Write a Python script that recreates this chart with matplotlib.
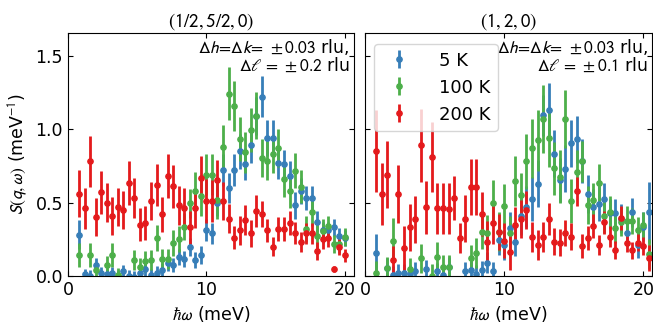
import numpy as np
import matplotlib
matplotlib.use("Agg")
import matplotlib.pyplot as plt

plt.rcParams['mathtext.fontset'] = 'stixsans'
plt.rcParams['font.family'] = ['DejaVu Sans']

# energy transfer grid (meV)
energy_a = [0.8, 1.2, 1.6, 2.0, 2.4, 2.8, 3.2, 3.6, 4.0, 4.4, 4.8, 5.2, 5.6, 6.0, 6.4, 6.8,
            7.2, 7.6, 8.0, 8.4, 8.8, 9.2, 9.6, 10.0, 10.4, 10.8, 11.2, 11.6, 12.0, 12.4,
            12.8, 13.2, 13.6, 14.0, 14.4, 14.8, 15.2, 15.6, 16.0, 16.4, 16.8, 17.2, 17.6,
            18.0, 18.4, 18.8, 19.2, 19.6, 20.0]
energy_b = energy_a + [20.4]

# (1/2, 5/2, 0)
s5_a = [0.28, 0.01, 0.0, 0.075, 0.02, 0.01, 0.02, 0.0, 0.035, 0.0, -0.01, 0.02, 0.045, 0.005,
        0.02, 0.04, 0.085, 0.075, 0.127, 0.114, 0.195, 0.11, 0.143, 0.31, 0.29, 0.50, 0.72,
        0.60, 0.72, 0.85, 0.76, 0.89, 1.09, 1.22, 0.94, 0.94, 0.77, 0.76, 0.68, 0.48, 0.58,
        0.53, 0.53, 0.37, 0.31, 0.31, 0.33, 0.27, 0.26]
e5_a = [0.10, 0.04, 0.04, 0.045, 0.04, 0.04, 0.04, 0.04, 0.04, 0.04, 0.04, 0.04, 0.045, 0.04,
        0.045, 0.045, 0.05, 0.05, 0.055, 0.055, 0.06, 0.055, 0.06, 0.075, 0.07, 0.09, 0.11,
        0.10, 0.11, 0.12, 0.11, 0.12, 0.13, 0.14, 0.12, 0.12, 0.11, 0.10, 0.10, 0.09, 0.09,
        0.08, 0.08, 0.07, 0.06, 0.06, 0.06, 0.055, 0.055]
s100_a = [0.143, -0.05, 0.143, 0.04, -0.05, 0.075, 0.143, 0.007, -0.05, -0.05, 0.109, 0.059,
          0.098, 0.109, 0.257, 0.114, 0.114, 0.223, 0.25, 0.336, 0.495, 0.575, 0.545, 0.689,
          0.689, 0.518, 0.877, 1.24, 1.16, 0.932, 0.841, 0.995, 1.09, 0.802, 0.786, 0.832,
          0.87, 0.659, 0.575, 0.718, 0.609, 0.318, 0.432, 0.273, 0.305, 0.34, 0.216, 0.216,
          0.264]
e100_a = [0.08, 0.04, 0.08, 0.05, 0.04, 0.06, 0.08, 0.05, 0.04, 0.04, 0.07, 0.06, 0.07, 0.07,
          0.09, 0.07, 0.07, 0.09, 0.09, 0.09, 0.10, 0.13, 0.14, 0.14, 0.14, 0.13, 0.15, 0.18,
          0.17, 0.15, 0.14, 0.15, 0.16, 0.13, 0.13, 0.13, 0.13, 0.12, 0.11, 0.12, 0.11, 0.09,
          0.09, 0.08, 0.08, 0.07, 0.06, 0.06, 0.06]
s200_a = [0.56, 0.46, 0.78, 0.40, 0.57, 0.50, 0.41, 0.47, 0.45, 0.63, 0.53, 0.35, 0.36, 0.51,
          0.62, 0.42, 0.68, 0.61, 0.48, 0.46, 0.33, 0.46, 0.67, 0.51, 0.51, 0.65, 0.51, 0.39,
          0.26, 0.31, 0.38, 0.29, 0.44, 0.42, 0.31, 0.20, 0.32, 0.32, 0.36, 0.29, 0.23, 0.29,
          0.29, 0.17, 0.25, 0.26, 0.045, 0.20, 0.14]
e200_a = [0.16, 0.14, 0.175, 0.13, 0.145, 0.135, 0.13, 0.13, 0.13, 0.15, 0.135, 0.11, 0.115,
          0.13, 0.145, 0.12, 0.15, 0.145, 0.135, 0.14, 0.115, 0.135, 0.145, 0.15, 0.14, 0.14,
          0.13, 0.10, 0.08, 0.10, 0.10, 0.09, 0.11, 0.09, 0.08, 0.065, 0.08, 0.08, 0.08, 0.075,
          0.07, 0.07, 0.07, 0.06, 0.065, 0.065, 0.02, 0.055, 0.045]

# (1, 2, 0)
s5_b = [0.155, -0.05, 0.055, 0.007, 0.02, 0.02, 0.014, 0.036, -0.05, 0.045, -0.05, 0.03, 0.007,
        0.06, -0.05, -0.05, 0.036, 0.04, 0.014, 0.04, 0.09, 0.035, 0.245, 0.21, 0.325, 0.234,
        0.41, 0.47, 0.523, 0.627, 1.093, 1.127, 0.832, 0.655, 0.73, 0.905, 0.932, 0.78, 0.557,
        0.47, 0.491, 0.523, 0.427, 0.427, 0.39, 0.295, 0.432, 0.211, 0.336, 0.432]
e5_b = [0.13, 0.04, 0.07, 0.06, 0.06, 0.06, 0.06, 0.06, 0.04, 0.06, 0.04, 0.06, 0.06, 0.07,
        0.04, 0.04, 0.06, 0.06, 0.06, 0.06, 0.07, 0.06, 0.10, 0.10, 0.11, 0.10, 0.13, 0.14,
        0.15, 0.16, 0.14, 0.19, 0.16, 0.15, 0.16, 0.16, 0.16, 0.15, 0.13, 0.12, 0.12, 0.11,
        0.10, 0.10, 0.10, 0.09, 0.10, 0.09, 0.10, 0.21]
s100_b = [0.018, -0.05, 0.052, 0.241, -0.05, -0.05, 0.045, -0.05, 0.12, -0.05, 0.0, 0.132,
          0.059, 0.059, -0.05, -0.05, -0.05, 0.12, 0.155, 0.302, 0.295, 0.5, 0.302, 0.477,
          0.291, 0.648, 0.552, 0.78, 0.87, 0.923, 1.068, 0.939, 0.734, 0.677, 1.068, 0.507,
          0.711, 0.78, 0.484, 0.514, 0.632, 0.405, 0.432, 0.325, 0.37, 0.375, 0.375, 0.314,
          0.348, 0.15]
e100_b = [0.08, 0.04, 0.08, 0.15, 0.04, 0.04, 0.08, 0.04, 0.10, 0.04, 0.08, 0.10, 0.08, 0.08,
          0.04, 0.04, 0.04, 0.09, 0.10, 0.12, 0.12, 0.15, 0.13, 0.15, 0.12, 0.17, 0.15, 0.19,
          0.20, 0.21, 0.23, 0.20, 0.18, 0.18, 0.20, 0.15, 0.15, 0.14, 0.13, 0.12, 0.13, 0.11,
          0.11, 0.10, 0.10, 0.10, 0.09, 0.09, 0.09, 0.10]
s200_b = [0.85, 0.56, 0.69, 0.105, 0.557, 0.19, 0.33, 0.386, 0.889, 0.468, 0.809, 0.461, 0.461,
          0.457, 0.53, 0.257, 0.39, 0.605, 0.605, 0.42, 0.23, 0.357, 0.30, 0.24, 0.16, 0.348,
          0.389, 0.45, 0.264, 0.211, 0.264, 0.389, 0.234, 0.227, 0.291, 0.268, 0.575, 0.205,
          0.257, 0.341, 0.211, 0.364, 0.268, 0.177, 0.393, 0.223, 0.173, 0.227, 0.205, 0.12]
e200_b = [0.28, 0.21, 0.23, 0.10, 0.20, 0.15, 0.16, 0.16, 0.25, 0.18, 0.24, 0.175, 0.175, 0.175,
          0.15, 0.10, 0.16, 0.19, 0.19, 0.15, 0.145, 0.14, 0.125, 0.12, 0.12, 0.12, 0.13, 0.13,
          0.10, 0.10, 0.10, 0.11, 0.09, 0.09, 0.09, 0.09, 0.10, 0.08, 0.08, 0.08, 0.07, 0.08,
          0.07, 0.06, 0.08, 0.06, 0.06, 0.06, 0.06, 0.09]

temps = ['5 K', '100 K', '200 K']
colors = ['#377eb8', '#4daf4a', '#e41a1c']
titles = [r'$(1/2, 5/2, 0)$', r'$(1, 2, 0)$']
resolutions = [r'$\Delta h\!=\!\Delta k\!=\,\pm 0.03$ rlu,' + '\n' + r'$\Delta\ell\,=\,\pm 0.2$ rlu',
               r'$\Delta h\!=\!\Delta k\!=\,\pm 0.03$ rlu,' + '\n' + r'$\Delta\ell\,=\,\pm 0.1$ rlu']

panels = [
    (energy_a, [(s5_a, e5_a), (s100_a, e100_a), (s200_a, e200_a)]),
    (energy_b, [(s5_b, e5_b), (s100_b, e100_b), (s200_b, e200_b)]),
]

fig = plt.figure(figsize=(6.53, 3.30), dpi=100)
ax1 = fig.add_axes([0.104, 0.164, 0.438, 0.736])
ax2 = fig.add_axes([0.559, 0.164, 0.44, 0.736], sharey=ax1)
axes = [ax1, ax2]

for ax, (en, series), title, res in zip(axes, panels, titles, resolutions):
    for (s, e), c, lab in zip(series, colors, temps):
        ax.errorbar(en, s, yerr=e, fmt='o', color=c, ms=3.8, elinewidth=2.0,
                    capsize=0, label=lab)
    ax.set_xlim(0, 20.65)
    ax.set_ylim(0, 1.655)
    ax.set_title(title, fontsize=13.5, pad=5)
    ax.set_xlabel(r'$\hbar\omega$ (meV)', fontsize=12.5)
    ax.set_xticks([0, 10, 20])
    ax.set_yticks([0.0, 0.5, 1.0, 1.5])
    ax.tick_params(direction='in', top=True, right=True, labelsize=12.5)
    ax.text(0.985, 0.985, res, transform=ax.transAxes, ha='right', va='top',
            fontsize=12.5, multialignment='right', linespacing=1.0)

ax1.set_ylabel(r'$S(q,\omega)$ (meV$^{-1}$)', fontsize=12.5)
ax2.tick_params(labelleft=False)
ax2.legend(loc='upper left', fontsize=13, handletextpad=1.2,
           bbox_to_anchor=(0.0, 0.99), borderaxespad=0.5)

fig.savefig('out.png', dpi=100)
